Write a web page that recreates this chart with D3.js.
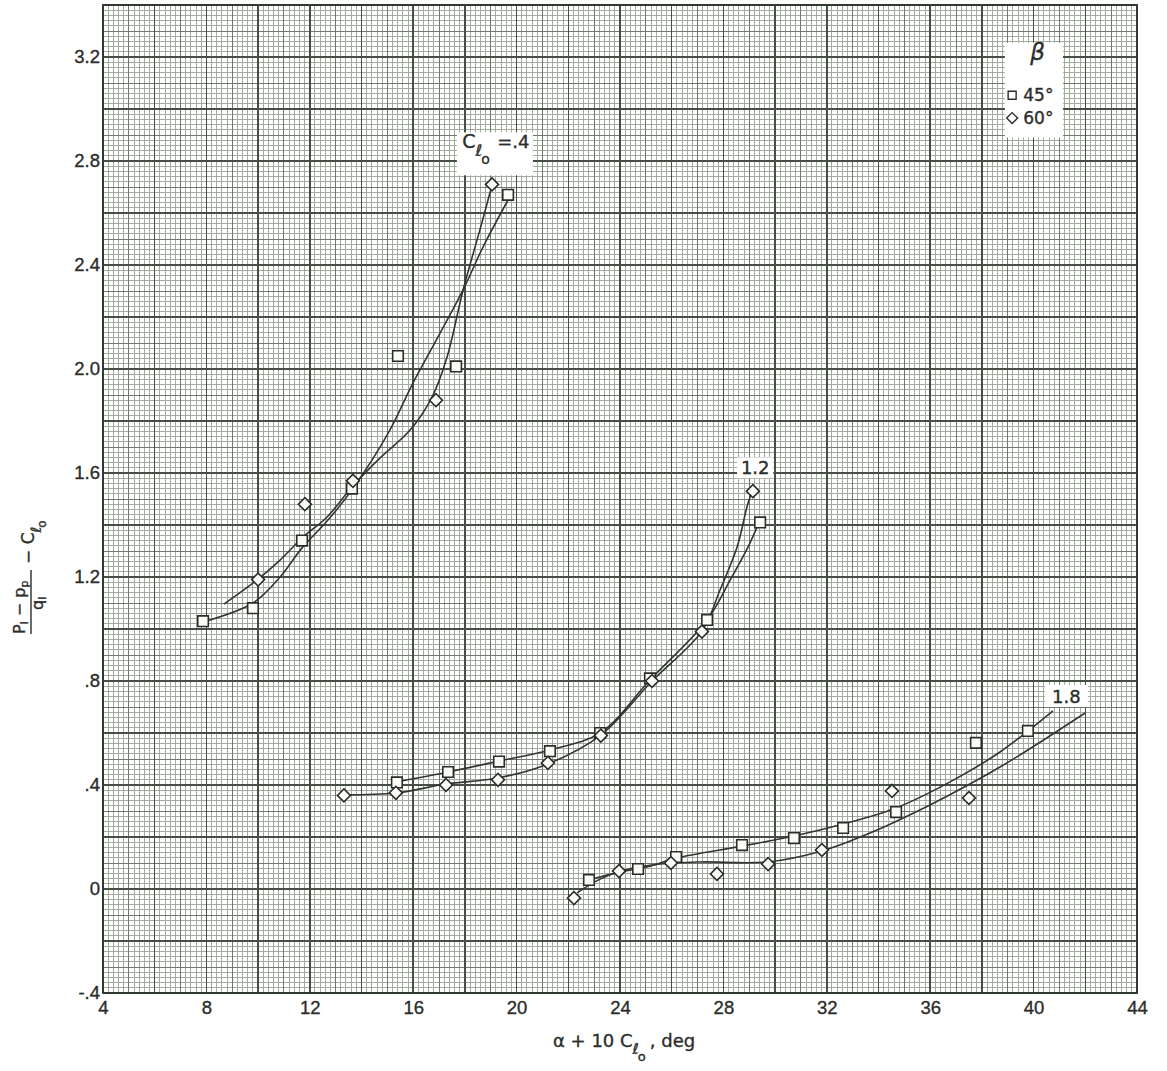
<!DOCTYPE html>
<html>
<head>
<meta charset="utf-8">
<script src="https://cdn.jsdelivr.net/npm/d3@7"></script>
<style>
    body { margin: 0; background: #ffffff; }
    svg { display: block; font-family: "DejaVu Sans", sans-serif; }
    svg text { stroke: #2b2d2a; stroke-width: 0.35px; }
</style>
</head>
<body>
<div id="chart"></div>
<script>
// axis ticks
const xTicks = [4, 8, 12, 16, 20, 24, 28, 32, 36, 40, 44];
const yTicks = [-0.4, 0, 0.4, 0.8, 1.2, 1.6, 2.0, 2.4, 2.8, 3.2];
const yTickLabels = ["-.4", "0", ".4", ".8", "1.2", "1.6", "2.0", "2.4", "2.8", "3.2"];

// measured points, beta = 45 deg (squares) and 60 deg (diamonds)
const sq04 = [[7.87, 1.03], [9.8, 1.08], [11.7, 1.34], [13.63, 1.54], [15.41, 2.05], [17.66, 2.01], [19.67, 2.67]];
const di04 = [[10.0, 1.19], [11.81, 1.48], [13.67, 1.57], [16.88, 1.88], [19.05, 2.71]];
const sq12 = [[15.37, 0.41], [17.35, 0.45], [19.32, 0.49], [21.29, 0.53], [23.23, 0.60], [25.16, 0.81], [27.37, 1.035], [29.42, 1.41]];
const di12 = [[13.32, 0.36], [15.33, 0.37], [17.27, 0.40], [19.28, 0.42], [21.21, 0.485], [23.26, 0.59], [25.24, 0.80], [27.17, 0.99], [29.14, 1.53]];
const sq18 = [[22.8, 0.035], [24.7, 0.077], [26.17, 0.123], [28.72, 0.169], [30.73, 0.196], [32.63, 0.235], [34.68, 0.296], [37.77, 0.562], [39.78, 0.608]];
const di18 = [[22.22, -0.035], [23.96, 0.069], [25.97, 0.1], [27.75, 0.058], [29.73, 0.096], [31.81, 0.15], [34.52, 0.377], [37.5, 0.35]];

// faired curves
const sqCurve04 = [[7.87, 1.027], [9.8, 1.10], [10.85, 1.20], [11.7, 1.312], [12.67, 1.415], [13.63, 1.535], [15.06, 1.758], [15.99, 1.946], [17.04, 2.138], [17.93, 2.304], [18.7, 2.469], [19.67, 2.65]];
const diCurve04 = [[8.68, 1.096], [10.0, 1.192], [10.85, 1.265], [11.7, 1.35], [12.67, 1.431], [13.63, 1.546], [14.72, 1.658], [15.88, 1.765], [16.73, 1.892], [17.31, 2.046], [17.93, 2.304], [18.58, 2.535], [19.05, 2.708]];
const sqCurve12 = [[15.37, 0.412], [17.35, 0.45], [19.32, 0.492], [21.29, 0.535], [23.23, 0.60], [25.16, 0.804], [27.37, 1.035], [28.26, 1.188], [28.95, 1.315], [29.3, 1.392]];
const diCurve12 = [[13.32, 0.362], [15.33, 0.369], [17.27, 0.404], [19.28, 0.427], [21.21, 0.481], [23.26, 0.592], [25.24, 0.80], [27.17, 0.992], [27.87, 1.15], [28.53, 1.315], [28.91, 1.469], [29.07, 1.519]];
const sqCurve18 = [[22.8, 0.035], [24.0, 0.065], [25.16, 0.088], [26.17, 0.119], [28.72, 0.165], [30.73, 0.204], [32.63, 0.25], [34.68, 0.312], [36.77, 0.412], [38.7, 0.527], [40.75, 0.685]];
const diCurve18 = [[22.34, -0.015], [23.23, 0.038], [24.19, 0.073], [25.55, 0.096], [27.09, 0.104], [29.72, 0.104], [31.81, 0.146], [33.67, 0.215], [35.99, 0.323], [38.7, 0.469], [41.99, 0.677]];

const legendLabels = ["45°", "60°"];

const width = 1167, height = 1071;
const margin = {top: 5, right: 30, bottom: 78, left: 103};
const ink = "#2b2d2a";

const x = d3.scaleLinear().domain([4, 44]).range([margin.left, width - margin.right]);
const y = d3.scaleLinear().domain([-0.4, 3.4]).range([height - margin.bottom, margin.top]);

const svg = d3.select("#chart").append("svg")
    .attr("width", width)
    .attr("height", height)
    .attr("viewBox", [0, 0, width, height]);

// graph paper: 0.2 / 0.02 minor, 1 / 0.1 medium, 2 / 0.2 major
const grid = svg.append("g").attr("shape-rendering", "crispEdges");
const gx = d3.range(0, 201).map(i => ({v: 4 + i * 0.2, k: i % 10 === 0 ? 2 : i % 5 === 0 ? 1 : 0}));
const gy = d3.range(0, 191).map(i => ({v: -0.4 + i * 0.02, k: i % 10 === 0 ? 2 : i % 5 === 0 ? 1 : 0}));
const gridStroke = ["#a2ac9e", "#6c7a69", "#435042"];
const gridWidth = [1, 1, 1.5];

[0, 1, 2].forEach(k => {
    grid.append("g").selectAll("line")
        .data(gx.filter(d => d.k === k))
        .join("line")
        .attr("x1", d => x(d.v)).attr("x2", d => x(d.v))
        .attr("y1", y(-0.4)).attr("y2", y(3.4))
        .attr("stroke", gridStroke[k]).attr("stroke-width", gridWidth[k]);
    grid.append("g").selectAll("line")
        .data(gy.filter(d => d.k === k))
        .join("line")
        .attr("x1", x(4)).attr("x2", x(44))
        .attr("y1", d => y(d.v)).attr("y2", d => y(d.v))
        .attr("stroke", gridStroke[k]).attr("stroke-width", gridWidth[k]);
});

svg.append("rect")
    .attr("x", x(4)).attr("y", y(3.4))
    .attr("width", x(44) - x(4)).attr("height", y(-0.4) - y(3.4))
    .attr("fill", "none").attr("stroke", "#2f382f").attr("stroke-width", 1.8);

// axes
svg.append("g")
    .attr("transform", `translate(0,${y(-0.4)})`)
    .call(d3.axisBottom(x).tickValues(xTicks).tickSize(0).tickPadding(8).tickFormat(d3.format("d")))
    .call(g => g.select(".domain").remove())
    .call(g => g.selectAll("text").attr("fill", ink).attr("font-size", 18.5));

svg.append("g")
    .attr("transform", `translate(${x(4)},0)`)
    .call(d3.axisLeft(y).tickValues(yTicks).tickSize(0).tickPadding(3).tickFormat((d, i) => yTickLabels[i]))
    .call(g => g.select(".domain").remove())
    .call(g => g.selectAll("text").attr("fill", ink).attr("font-size", 18.5));

// curves
const line = d3.line()
    .x(d => x(d[0]))
    .y(d => y(d[1]))
    .curve(d3.curveCatmullRom.alpha(0.5));

const curves = [sqCurve04, diCurve04, sqCurve12, diCurve12, sqCurve18, diCurve18];
svg.append("g").selectAll("path")
    .data(curves)
    .join("path")
    .attr("d", line)
    .attr("fill", "none")
    .attr("stroke", "#333532")
    .attr("stroke-width", 1.6);

// symbols
const squareSym = d3.symbol().type(d3.symbolSquare).size(112);
const diamondSym = d3.symbol().type(d3.symbolSquare).size(84);

const pts = svg.append("g");
pts.selectAll("path.sq")
    .data([].concat(sq04, sq12, sq18))
    .join("path")
    .attr("class", "sq")
    .attr("transform", d => `translate(${x(d[0])},${y(d[1])})`)
    .attr("d", squareSym)
    .attr("fill", "#fafaf6")
    .attr("stroke", ink)
    .attr("stroke-width", 1.6);

pts.selectAll("path.di")
    .data([].concat(di04, di12, di18))
    .join("path")
    .attr("class", "di")
    .attr("transform", d => `translate(${x(d[0])},${y(d[1])}) rotate(45)`)
    .attr("d", diamondSym)
    .attr("fill", "#fafaf6")
    .attr("stroke", ink)
    .attr("stroke-width", 1.6);

// curve labels on white patches
const notes = svg.append("g").attr("fill", ink);

function patch(x0, y0, x1, y1) {
    notes.append("rect")
        .attr("x", x(x0)).attr("y", y(y0))
        .attr("width", x(x1) - x(x0)).attr("height", y(y1) - y(y0))
        .attr("fill", "#ffffff");
}

patch(17.69, 2.91, 20.63, 2.745);
const cl = notes.append("text").attr("x", x(17.9)).attr("y", y(2.85)).attr("font-size", 19);
cl.append("tspan").text("C");
cl.append("tspan").attr("dy", 8).attr("font-size", 16).text("ℓ");
cl.append("tspan").attr("dy", 8).attr("dx", -1).attr("font-size", 14).text("o");
notes.append("text").attr("x", x(20.5)).attr("y", y(2.85)).attr("text-anchor", "end")
    .attr("font-size", 18).text("=.4");

patch(28.53, 1.66, 29.93, 1.58);
notes.append("text").attr("x", x(29.23)).attr("y", y(1.62) + 6.5).attr("text-anchor", "middle")
    .attr("font-size", 18).text("1.2");

patch(40.44, 0.785, 42.1, 0.70);
notes.append("text").attr("x", x(41.27)).attr("y", y(0.742) + 6.5).attr("text-anchor", "middle")
    .attr("font-size", 18).text("1.8");

// legend
patch(38.89, 3.255, 41.14, 2.89);
notes.append("text").attr("x", x(40.15)).attr("y", y(3.19)).attr("text-anchor", "middle")
    .attr("font-size", 23).attr("font-style", "italic").text("β");
const lg = notes.append("g");
lg.append("path")
    .attr("transform", `translate(${x(39.17)},${y(3.053)})`)
    .attr("d", d3.symbol().type(d3.symbolSquare).size(64))
    .attr("fill", "none").attr("stroke", ink).attr("stroke-width", 1.4);
lg.append("path")
    .attr("transform", `translate(${x(39.17)},${y(2.965)}) rotate(45)`)
    .attr("d", d3.symbol().type(d3.symbolSquare).size(60))
    .attr("fill", "none").attr("stroke", ink).attr("stroke-width", 1.4);
lg.selectAll("text")
    .data(legendLabels)
    .join("text")
    .attr("x", x(39.6))
    .attr("y", (d, i) => y([3.053, 2.965][i]) + 6)
    .attr("font-size", 17)
    .text(d => d);

// x title
const xt = svg.append("text")
    .attr("x", 553).attr("y", 1047)
    .attr("fill", ink).attr("font-size", 18);
xt.append("tspan").text("α + 10 C");
xt.append("tspan").attr("dy", 7).attr("font-size", 15).text("ℓ");
xt.append("tspan").attr("dy", 7).attr("dx", -1).attr("font-size", 13).text("o");
xt.append("tspan").attr("dy", -14).attr("dx", 4).text(", deg");

// y title, rotated fraction
const yt = svg.append("g")
    .attr("transform", "translate(31,634) rotate(-90)")
    .attr("fill", ink);
const num = yt.append("text").attr("x", 0).attr("y", -6).attr("font-size", 16);
num.append("tspan").text("P");
num.append("tspan").attr("dy", 3).attr("font-size", 11).text("l");
num.append("tspan").attr("dy", -3).text(" − p");
num.append("tspan").attr("dy", 3).attr("font-size", 11).text("p");
yt.append("line").attr("x1", 0).attr("x2", 64).attr("y1", 0).attr("y2", 0)
    .attr("stroke", ink).attr("stroke-width", 1.4);
const den = yt.append("text").attr("x", 24).attr("y", 12).attr("font-size", 16);
den.append("tspan").text("q");
den.append("tspan").attr("dy", 3).attr("font-size", 11).text("l");
const cterm = yt.append("text").attr("x", 70).attr("y", 3).attr("font-size", 17);
cterm.append("tspan").text("− C");
cterm.append("tspan").attr("dy", 7).attr("font-size", 14).text("ℓ");
cterm.append("tspan").attr("dy", 5).attr("dx", -1).attr("font-size", 12).text("o");
</script>
</body>
</html>
